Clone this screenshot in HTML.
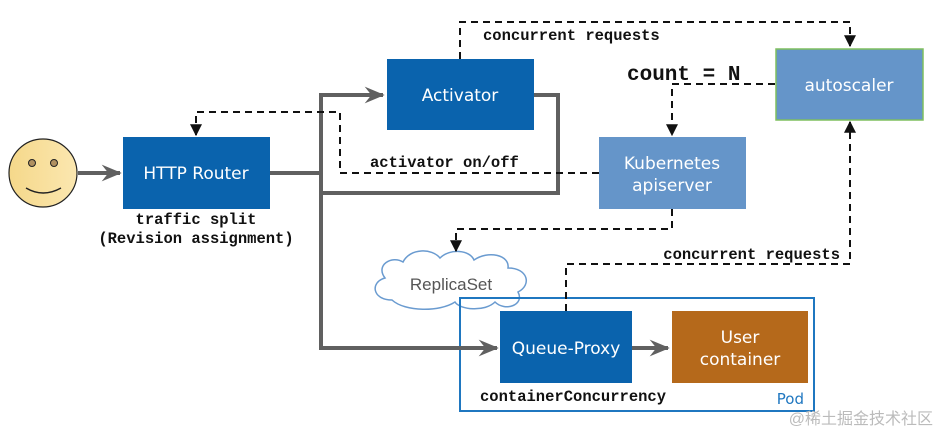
<!DOCTYPE html>
<html><head><meta charset="utf-8"><style>
body{margin:0;width:938px;height:436px;background:#fff;overflow:hidden}
svg{display:block}
.b{font-family:"DejaVu Sans","Liberation Sans",sans-serif;fill:#fff;font-size:17px;text-anchor:middle}
.m{font-family:"Liberation Mono","Courier New",monospace;font-weight:bold;font-size:15.5px;fill:#111}
</style></head><body>
<svg width="938" height="436" viewBox="0 0 938 436">
<defs>
<marker id="a" viewBox="0 0 10 10" refX="9" refY="5" markerWidth="6" markerHeight="6" orient="auto"><path d="M0,0L10,5L0,10z" fill="#111"/></marker>
<marker id="g" viewBox="0 0 12 10" refX="11" refY="5" markerWidth="5" markerHeight="5" orient="auto" markerUnits="strokeWidth"><path d="M0,0L12,5L0,10L4,5z" fill="#606060"/></marker>
<linearGradient id="sm" x1="0" x2="1"><stop offset="0" stop-color="#f5d88a"/><stop offset="1" stop-color="#fbe7b0"/></linearGradient>
</defs>
<rect x="460" y="298" width="354" height="113" fill="#fff" stroke="#1f77c0" stroke-width="2"/>
<path d="M392,300 C372,300 370,282 385,278 C375,265 392,255 403,262 C410,248 432,248 440,258 C450,248 470,250 474,260 C488,250 510,255 508,268 C528,268 532,285 518,292 C525,305 505,312 495,302 C485,312 460,310 455,302 C440,312 405,312 392,300Z" fill="#fff" stroke="#6a9bd0" stroke-width="1.5"/>
<text x="451" y="290" font-family="Liberation Sans,sans-serif" font-size="17" fill="#555" text-anchor="middle">ReplicaSet</text>
<rect x="460" y="298" width="354" height="113" fill="none" stroke="#1f77c0" stroke-width="2"/>
<g stroke="#606060" stroke-width="4" fill="none">
<line x1="78" y1="173" x2="120" y2="173" marker-end="url(#g)"/>
<polyline points="270,173 321,173 321,95 383,95" marker-end="url(#g)"/>
<polyline points="321,173 321,348 497,348" marker-end="url(#g)"/>
<polyline points="534,95 558,95 558,193 321,193"/>
<line x1="632" y1="348" x2="668" y2="348" marker-end="url(#g)"/>
</g>
<g stroke="#111" stroke-width="2" fill="none" stroke-dasharray="7,5">
<polyline points="460,59 460,22 850,22 850,46" marker-end="url(#a)"/>
<polyline points="775,84 672,84 672,135" marker-end="url(#a)"/>
<polyline points="599,173 340,173 340,112 196,112 196,135" marker-end="url(#a)"/>
<polyline points="672,209 672,229 456,229 456,251" marker-end="url(#a)"/>
<polyline points="566,311 566,264 850,264 850,122" marker-end="url(#a)"/>
</g>
<circle cx="43" cy="173" r="34" fill="url(#sm)" stroke="#222" stroke-width="1.2"/>
<circle cx="32" cy="163" r="3.5" fill="#b09060" stroke="#222"/>
<circle cx="54" cy="163" r="3.5" fill="#b09060" stroke="#222"/>
<path d="M26,188 Q43,198 61,188" stroke="#222" stroke-width="1.4" fill="none"/>
<rect x="123" y="137" width="147" height="72" fill="#0a63ad"/>
<text class="b" x="196" y="179">HTTP Router</text>
<rect x="387" y="59" width="147" height="71" fill="#0a63ad"/>
<text class="b" x="460" y="101">Activator</text>
<rect x="599" y="137" width="147" height="72" fill="#6595c9"/>
<text class="b" x="672" y="169">Kubernetes</text>
<text class="b" x="672" y="191">apiserver</text>
<rect x="776" y="49" width="147" height="71" fill="#6595c9" stroke="#7fbf5f" stroke-width="1.5"/>
<text class="b" x="849" y="91">autoscaler</text>
<rect x="500" y="311" width="132" height="72" fill="#0a63ad"/>
<text class="b" x="566" y="354">Queue-Proxy</text>
<rect x="672" y="311" width="136" height="72" fill="#b5691b"/>
<text class="b" x="740" y="343">User</text>
<text class="b" x="740" y="365">container</text>
<text x="804" y="404" font-family="DejaVu Sans,sans-serif" font-size="15" fill="#1f77c0" text-anchor="end">Pod</text>
<text class="m" x="483" y="40">concurrent requests</text>
<text class="m" x="627" y="80" style="font-size:21px">count = N</text>
<text class="m" x="370" y="167">activator on/off</text>
<text class="m" x="196" y="224" text-anchor="middle">traffic split</text>
<text class="m" x="196" y="243" text-anchor="middle">(Revision assignment)</text>
<text class="m" x="840" y="259" text-anchor="end">concurrent requests</text>
<text class="m" x="480" y="401">containerConcurrency</text>
<text x="933" y="424" font-family="Liberation Sans,'Noto Sans CJK SC',sans-serif" font-size="16" fill="#bbb" text-anchor="end">@稀土掘金技术社区</text>
</svg>
</body></html>
